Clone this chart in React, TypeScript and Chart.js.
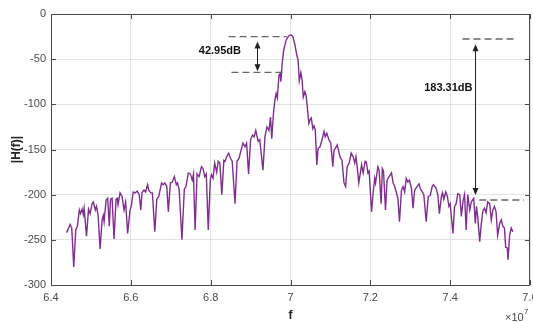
import React, { useEffect, useRef } from "react";
import { Chart, registerables } from "chart.js";

Chart.register(...registerables);

// frequency in units of 1e7 Hz
const FREQ = [
  6.439, 6.448, 6.452, 6.457, 6.462, 6.466, 6.471, 6.474, 6.478, 6.481, 6.483, 6.489, 6.494, 6.498,
  6.503, 6.506, 6.511, 6.514, 6.518, 6.523, 6.528, 6.531, 6.533, 6.538, 6.542, 6.546, 6.549, 6.553,
  6.558, 6.563, 6.566, 6.568, 6.573, 6.578, 6.583, 6.587, 6.592, 6.598, 6.601, 6.606, 6.611, 6.616,
  6.621, 6.625, 6.628, 6.633, 6.637, 6.642, 6.645, 6.650, 6.654, 6.660, 6.665, 6.670, 6.677, 6.681,
  6.685, 6.690, 6.694, 6.699, 6.704, 6.709, 6.714, 6.717, 6.721, 6.728, 6.734, 6.738, 6.744, 6.749,
  6.754, 6.757, 6.761, 6.766, 6.771, 6.777, 6.781, 6.785, 6.789, 6.794, 6.799, 6.802, 6.806, 6.810,
  6.815, 6.819, 6.823, 6.828, 6.833, 6.836, 6.840, 6.845, 6.850, 6.854, 6.861, 6.866, 6.871, 6.876,
  6.881, 6.886, 6.890, 6.895, 6.900, 6.905, 6.909, 6.913, 6.919, 6.923, 6.931, 6.936, 6.941, 6.946,
  6.950, 6.953, 6.958, 6.961, 6.964, 6.967, 6.971, 6.974, 6.976, 6.979, 6.983, 6.989, 6.996, 7.001,
  7.006, 7.011, 7.016, 7.019, 7.022, 7.026, 7.029, 7.032, 7.036, 7.039, 7.042, 7.046, 7.049, 7.052,
  7.056, 7.059, 7.062, 7.066, 7.069, 7.074, 7.079, 7.084, 7.087, 7.091, 7.096, 7.101, 7.106, 7.109,
  7.112, 7.117, 7.121, 7.124, 7.129, 7.134, 7.138, 7.142, 7.147, 7.152, 7.157, 7.161, 7.164, 7.167,
  7.171, 7.176, 7.178, 7.182, 7.187, 7.190, 7.194, 7.197, 7.203, 7.207, 7.211, 7.213, 7.219, 7.222,
  7.227, 7.230, 7.233, 7.238, 7.242, 7.247, 7.253, 7.257, 7.261, 7.265, 7.269, 7.273, 7.278, 7.282,
  7.286, 7.290, 7.294, 7.298, 7.303, 7.307, 7.311, 7.317, 7.322, 7.325, 7.330, 7.334, 7.340, 7.345,
  7.350, 7.355, 7.358, 7.365, 7.369, 7.373, 7.378, 7.381, 7.384, 7.389, 7.393, 7.397, 7.400, 7.407,
  7.411, 7.415, 7.419, 7.424, 7.428, 7.432, 7.436, 7.440, 7.444, 7.449, 7.453, 7.459, 7.463, 7.466,
  7.469, 7.474, 7.478, 7.482, 7.486, 7.490, 7.494, 7.499, 7.503, 7.507, 7.511, 7.515, 7.519, 7.524,
  7.528, 7.532, 7.536, 7.539, 7.543, 7.545, 7.549, 7.553, 7.557,
];

// |H(f)| in dB
const MAG = [
  -242, -233, -237, -280, -239, -235, -217, -221, -216, -222, -215, -246, -216, -221,
  -210, -208, -217, -213, -223, -260, -228, -223, -230, -206, -204, -235, -205, -204,
  -249, -205, -204, -211, -198, -202, -217, -208, -243, -217, -213, -197, -198, -196,
  -200, -217, -198, -195, -197, -189, -195, -198, -198, -241, -205, -202, -187, -189,
  -187, -191, -219, -187, -186, -180, -189, -187, -194, -250, -194, -191, -176, -177,
  -184, -177, -239, -177, -180, -169, -171, -180, -177, -239, -184, -178, -182, -165,
  -175, -163, -165, -200, -162, -163, -158, -154, -160, -163, -210, -163, -160, -151,
  -143, -147, -143, -177, -139, -134, -136, -129, -141, -139, -173, -136, -125, -129,
  -114, -138, -106, -95, -88, -93, -68, -66, -75, -55, -40, -29, -24, -23,
  -25, -34, -46, -51, -74, -65, -73, -92, -86, -90, -103, -121, -117, -115,
  -127, -124, -128, -167, -149, -147, -139, -130, -136, -132, -139, -143, -169, -151,
  -149, -145, -152, -158, -162, -187, -191, -169, -165, -154, -158, -165, -158, -169,
  -187, -173, -167, -176, -163, -164, -176, -174, -219, -198, -182, -187, -169, -173,
  -210, -171, -174, -217, -184, -180, -176, -187, -191, -197, -204, -230, -195, -191,
  -197, -182, -186, -184, -193, -215, -195, -191, -188, -193, -197, -200, -230, -202,
  -201, -191, -189, -193, -200, -221, -202, -198, -205, -197, -202, -213, -210, -243,
  -213, -210, -199, -200, -224, -208, -200, -239, -200, -217, -208, -204, -232, -213,
  -224, -252, -232, -218, -215, -220, -208, -210, -228, -217, -213, -219, -245, -232,
  -228, -235, -237, -258, -259, -272, -245, -237, -241,
];

const X_TICKS = [6.4, 6.6, 6.8, 7.0, 7.2, 7.4, 7.6];
const Y_TICKS = [0, -50, -100, -150, -200, -250, -300];

// annotation values (x in 1e7 Hz, y in dB)
const LEFT_TOP_LINE = { x0: 6.845, x1: 6.991, y: -25.1 };
const LEFT_BOT_LINE = { x0: 6.852, x1: 6.981, y: -64.6 };
const LEFT_ARROW = { x: 6.915, y0: -30.5, y1: -63.5 };
const LEFT_LABEL = { x: 6.876, y: -40.6, text: "42.95dB" };
const RIGHT_TOP_LINE = { x0: 7.431, x1: 7.564, y: -27.7 };
const RIGHT_BOT_LINE = { x0: 7.473, x1: 7.585, y: -205.9 };
const RIGHT_ARROW = { x: 7.462, y0: -33.5, y1: -200.5 };
const RIGHT_LABEL = { x: 7.456, y: -82.3, text: "183.31dB" };

const FONT = "'Liberation Sans', Arial, Helvetica, sans-serif";
const AXIS_COLOR = "#4a4a4a";

function arrowHead(ctx: CanvasRenderingContext2D, x: number, y: number, dir: number) {
  ctx.beginPath();
  ctx.moveTo(x, y);
  ctx.lineTo(x - 3, y - dir * 7);
  ctx.lineTo(x + 3, y - dir * 7);
  ctx.closePath();
  ctx.fill();
}

const decorPlugin = {
  id: "decor",
  afterDraw(chart: any) {
    const { ctx, chartArea, scales } = chart;
    const xs = scales.x;
    const ys = scales.y;
    ctx.save();
    // box
    ctx.strokeStyle = AXIS_COLOR;
    ctx.lineWidth = 1;
    ctx.strokeRect(
      Math.round(chartArea.left) + 0.5,
      Math.round(chartArea.top) + 0.5,
      Math.round(chartArea.right - chartArea.left) - 1,
      Math.round(chartArea.bottom - chartArea.top)
    );
    // inward ticks
    const tl = 5;
    ctx.beginPath();
    X_TICKS.forEach((v) => {
      const px = Math.round(xs.getPixelForValue(v)) + 0.5;
      ctx.moveTo(px, chartArea.bottom);
      ctx.lineTo(px, chartArea.bottom - tl);
      ctx.moveTo(px, chartArea.top);
      ctx.lineTo(px, chartArea.top + tl);
    });
    Y_TICKS.forEach((v) => {
      const py = Math.round(ys.getPixelForValue(v)) + 0.5;
      ctx.moveTo(chartArea.left, py);
      ctx.lineTo(chartArea.left + tl, py);
      ctx.moveTo(chartArea.right, py);
      ctx.lineTo(chartArea.right - tl, py);
    });
    ctx.stroke();

    // dashed reference lines
    ctx.strokeStyle = "#666";
    ctx.lineWidth = 1.3;
    ctx.setLineDash([7, 4]);
    [LEFT_TOP_LINE, LEFT_BOT_LINE, RIGHT_TOP_LINE, RIGHT_BOT_LINE].forEach((l) => {
      const py = ys.getPixelForValue(l.y);
      ctx.beginPath();
      ctx.moveTo(xs.getPixelForValue(l.x0), py);
      ctx.lineTo(xs.getPixelForValue(l.x1), py);
      ctx.stroke();
    });
    ctx.setLineDash([]);

    // arrows
    ctx.strokeStyle = "#222";
    ctx.fillStyle = "#222";
    ctx.lineWidth = 1;
    [LEFT_ARROW, RIGHT_ARROW].forEach((a) => {
      const px = Math.round(xs.getPixelForValue(a.x)) + 0.5;
      const p0 = ys.getPixelForValue(a.y0);
      const p1 = ys.getPixelForValue(a.y1);
      ctx.beginPath();
      ctx.moveTo(px, p0 + 4);
      ctx.lineTo(px, p1 - 4);
      ctx.stroke();
      arrowHead(ctx, px, p0, -1);
      arrowHead(ctx, px, p1, 1);
    });

    // labels
    ctx.fillStyle = "#111";
    ctx.font = `bold 11px ${FONT}`;
    ctx.textAlign = "right";
    ctx.textBaseline = "middle";
    [LEFT_LABEL, RIGHT_LABEL].forEach((t) => {
      ctx.fillText(t.text, xs.getPixelForValue(t.x), ys.getPixelForValue(t.y));
    });

    // axis titles
    ctx.fillStyle = "#222";
    ctx.font = `bold 12px ${FONT}`;
    ctx.textAlign = "center";
    ctx.fillText("f", (chartArea.left + chartArea.right) / 2, 316);
    ctx.save();
    ctx.translate(17, (chartArea.top + chartArea.bottom) / 2);
    ctx.rotate(-Math.PI / 2);
    ctx.fillText("|H(f)|", 0, 0);
    ctx.restore();

    // exponent
    ctx.fillStyle = "#444";
    ctx.font = `11px ${FONT}`;
    ctx.textAlign = "left";
    ctx.fillText("\u00d710", 505, 318);
    ctx.font = `8px ${FONT}`;
    ctx.fillText("7", 524, 312);
    ctx.restore();
  },
};

export default function App() {
  const ref = useRef<HTMLCanvasElement>(null);
  useEffect(() => {
    if (!ref.current) return;
    const chart = new Chart(ref.current, {
      type: "line",
      data: {
        datasets: [
          {
            data: FREQ.map((x, i) => ({ x, y: MAG[i] })),
            borderColor: "#7E2F8E",
            borderWidth: 1.4,
            pointRadius: 0,
            tension: 0,
            fill: false,
          },
        ],
      },
      options: {
        animation: false,
        responsive: false,
        maintainAspectRatio: false,
        layout: { padding: { top: 14, right: 3, left: 0, bottom: 0 } },
        plugins: { legend: { display: false }, tooltip: { enabled: false } },
        scales: {
          x: {
            type: "linear",
            min: 6.4,
            max: 7.6,
            afterBuildTicks: (s: any) => {
              s.ticks = X_TICKS.map((v) => ({ value: v }));
            },
            afterFit: (s: any) => {
              s.height = 37;
              s.paddingRight = 0;
              s.paddingLeft = 0;
            },
            ticks: {
              color: AXIS_COLOR,
              font: { family: FONT, size: 11 },
              padding: 6,
              maxRotation: 0,
              autoSkip: false,
              callback: (v: any) => String(Number(Number(v).toFixed(1))),
            },
            grid: { color: "#e3e3e3", drawTicks: false },
            border: { display: false },
          },
          y: {
            type: "linear",
            min: -300,
            max: 0,
            afterBuildTicks: (s: any) => {
              s.ticks = Y_TICKS.slice().reverse().map((v) => ({ value: v }));
            },
            afterFit: (s: any) => {
              s.width = 51;
              s.paddingTop = 0;
              s.paddingBottom = 0;
            },
            ticks: {
              color: AXIS_COLOR,
              font: { family: FONT, size: 11 },
              padding: 5,
              autoSkip: false,
              callback: (v: any) => String(v),
            },
            grid: { color: "#e3e3e3", drawTicks: false },
            border: { display: false },
          },
        },
      },
      plugins: [decorPlugin],
    } as any);
    return () => chart.destroy();
  }, []);
  return (
    <div style={{ position: "fixed", left: 0, top: 0, width: 533, height: 322, background: "#fff" }}>
      <canvas ref={ref} width={533} height={322} style={{ width: 533, height: 322, display: "block" }} />
    </div>
  );
}
